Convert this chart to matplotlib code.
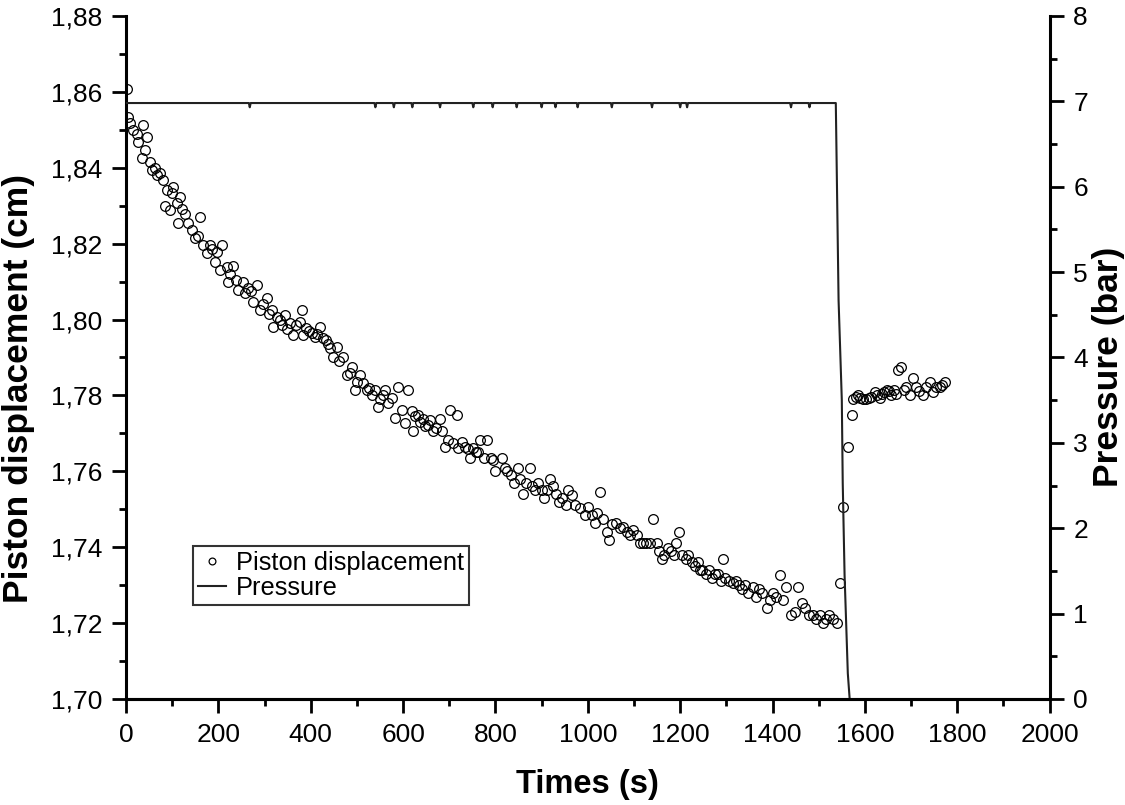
import matplotlib
matplotlib.use('Agg')
import matplotlib.pyplot as plt
from matplotlib.ticker import MultipleLocator, FuncFormatter

plt.rcParams['font.family'] = ['Liberation Sans', 'DejaVu Sans']

# Piston displacement (cm), time in s
piston_t = [
    2, 5, 9, 15, 24, 27, 35, 37, 41, 45,
    52, 56, 62, 67, 74, 80, 84, 88, 95, 100,
    102, 110, 113, 117, 122, 128, 134, 143, 149, 155,
    160, 167, 175, 182, 187, 193, 197, 203, 208, 218,
    220, 225, 232, 238, 243, 253, 258, 264, 270, 276,
    283, 290, 297, 305, 310, 316, 318, 326, 333, 338,
    344, 349, 355, 361, 368, 377, 381, 383, 390, 396,
    402, 409, 414, 420, 426, 432, 438, 442, 448, 456,
    462, 470, 478, 484, 489, 496, 501, 506, 513, 521,
    527, 533, 539, 545, 551, 556, 561, 567, 576, 582,
    589, 597, 604, 610, 619, 621, 626, 632, 637, 643,
    648, 654, 659, 665, 672, 680, 684, 690, 697, 701,
    708, 716, 719, 727, 734, 740, 745, 751, 757, 762,
    766, 775, 781, 790, 795, 800, 814, 820, 826, 833,
    840, 848, 853, 859, 866, 874, 880, 886, 893, 900,
    906, 912, 918, 925, 932, 938, 945, 952, 958, 965,
    972, 983, 994, 1000, 1008, 1015, 1020, 1026, 1032, 1041,
    1046, 1052, 1062, 1069, 1076, 1084, 1091, 1098, 1106, 1113,
    1120, 1127, 1134, 1141, 1149, 1155, 1160, 1166, 1173, 1180,
    1186, 1190, 1197, 1205, 1212, 1218, 1225, 1232, 1238, 1242,
    1248, 1255, 1262, 1268, 1275, 1282, 1288, 1292, 1298, 1305,
    1314, 1320, 1327, 1334, 1340, 1347, 1357, 1364, 1370, 1377,
    1387, 1394, 1400, 1408, 1416, 1422, 1430, 1441, 1448, 1455,
    1463, 1470, 1478, 1487, 1495, 1502, 1509, 1516, 1523, 1530,
    1539, 1545, 1553, 1563, 1571, 1574, 1580, 1585, 1590, 1596,
    1603, 1608, 1614, 1621, 1626, 1632, 1636, 1641, 1647, 1652,
    1657, 1664, 1668, 1672, 1679, 1685, 1690, 1697, 1704, 1711,
    1718, 1726, 1733, 1740, 1747, 1755, 1762, 1768, 1773,
]
piston_cm = [
    1.8608, 1.8534, 1.8518, 1.8500, 1.8490, 1.8468, 1.8426, 1.8513, 1.8447, 1.8480,
    1.8415, 1.8394, 1.8400, 1.8380, 1.8386, 1.8368, 1.8300, 1.8340, 1.8289, 1.8333,
    1.8350, 1.8307, 1.8254, 1.8323, 1.8290, 1.8278, 1.8254, 1.8236, 1.8215, 1.8220,
    1.8270, 1.8196, 1.8175, 1.8196, 1.8185, 1.8152, 1.8178, 1.8130, 1.8196, 1.8138,
    1.8100, 1.8120, 1.8140, 1.8105, 1.8078, 1.8100, 1.8070, 1.8083, 1.8075, 1.8046,
    1.8090, 1.8025, 1.8040, 1.8057, 1.8015, 1.8025, 1.7980, 1.8007, 1.8000, 1.7985,
    1.8012, 1.7975, 1.7990, 1.7960, 1.7985, 1.7993, 1.8025, 1.7960, 1.7978, 1.7970,
    1.7965, 1.7954, 1.7962, 1.7980, 1.7950, 1.7945, 1.7935, 1.7925, 1.7900, 1.7928,
    1.7890, 1.7900, 1.7854, 1.7860, 1.7875, 1.7814, 1.7835, 1.7854, 1.7833, 1.7814,
    1.7820, 1.7800, 1.7814, 1.7770, 1.7790, 1.7800, 1.7814, 1.7780, 1.7793, 1.7740,
    1.7822, 1.7762, 1.7727, 1.7814, 1.7760, 1.7706, 1.7745, 1.7748, 1.7730, 1.7738,
    1.7720, 1.7722, 1.7735, 1.7706, 1.7715, 1.7738, 1.7706, 1.7664, 1.7682, 1.7762,
    1.7675, 1.7748, 1.7661, 1.7677, 1.7664, 1.7660, 1.7635, 1.7661, 1.7650, 1.7650,
    1.7682, 1.7635, 1.7682, 1.7635, 1.7630, 1.7600, 1.7635, 1.7610, 1.7600, 1.7590,
    1.7570, 1.7610, 1.7580, 1.7540, 1.7570, 1.7610, 1.7560, 1.7550, 1.7570, 1.7550,
    1.7530, 1.7550, 1.7580, 1.7560, 1.7540, 1.7520, 1.7530, 1.7510, 1.7550, 1.7537,
    1.7510, 1.7503, 1.7485, 1.7506, 1.7485, 1.7464, 1.7490, 1.7545, 1.7474, 1.7440,
    1.7420, 1.7460, 1.7464, 1.7450, 1.7453, 1.7440, 1.7432, 1.7445, 1.7432, 1.7410,
    1.7410, 1.7410, 1.7410, 1.7474, 1.7410, 1.7390, 1.7370, 1.7380, 1.7398, 1.7390,
    1.7380, 1.7410, 1.7440, 1.7380, 1.7370, 1.7380, 1.7360, 1.7350, 1.7360, 1.7340,
    1.7340, 1.7330, 1.7340, 1.7320, 1.7330, 1.7330, 1.7310, 1.7370, 1.7320, 1.7310,
    1.7305, 1.7310, 1.7300, 1.7290, 1.7300, 1.7280, 1.7295, 1.7270, 1.7290, 1.7280,
    1.7240, 1.7260, 1.7280, 1.7270, 1.7327, 1.7260, 1.7295, 1.7220, 1.7230, 1.7295,
    1.7253, 1.7240, 1.7220, 1.7220, 1.7210, 1.7220, 1.7200, 1.7210, 1.7220, 1.7210,
    1.7200, 1.7305, 1.7506, 1.7664, 1.7748, 1.7790, 1.7796, 1.7801, 1.7792, 1.7790,
    1.7790, 1.7794, 1.7796, 1.7810, 1.7800, 1.7792, 1.7805, 1.7808, 1.7814, 1.7812,
    1.7801, 1.7814, 1.7805, 1.7867, 1.7876, 1.7815, 1.7823, 1.7801, 1.7845, 1.7823,
    1.7812, 1.7801, 1.7823, 1.7836, 1.7810, 1.7823, 1.7823, 1.7828, 1.7836,
]

# Pressure (bar): 7 bar with small glitches, then released
pressure_t = [
    0,
    266, 268, 270,
    538, 540, 542,
    578, 580, 582,
    618, 620, 622,
    678, 680, 682,
    750, 752, 754,
    792, 794, 796,
    844, 846, 848,
    898, 900, 902,
    928, 930, 932,
    976, 978, 980,
    1050, 1052, 1054,
    1137, 1139, 1141,
    1198, 1200, 1202,
    1213, 1215, 1217,
    1438, 1440, 1442,
    1478, 1480, 1482,
    1537, 1543, 1550, 1552, 1556, 1563, 1567,
]
pressure_bar = [
    6.98,
    6.98, 6.93, 6.98,
    6.98, 6.93, 6.98,
    6.98, 6.93, 6.98,
    6.98, 6.93, 6.98,
    6.98, 6.93, 6.98,
    6.98, 6.93, 6.98,
    6.98, 6.93, 6.98,
    6.98, 6.93, 6.98,
    6.98, 6.93, 6.98,
    6.98, 6.93, 6.98,
    6.98, 6.93, 6.98,
    6.98, 6.93, 6.98,
    6.98, 6.93, 6.98,
    6.98, 6.93, 6.98,
    6.98, 6.93, 6.98,
    6.98, 6.93, 6.98,
    6.98, 6.93, 6.98,
    6.98, 4.67, 3.50, 2.53, 1.45, 0.30, 0.0,
]

fig = plt.figure(figsize=(11.25, 8.05), dpi=100)
ax = fig.add_axes([0.112, 0.1317, 0.821, 0.8485])
ax2 = ax.twinx()

pts, = ax.plot(piston_t, piston_cm, 'o', mfc='none', mec='black', ms=7,
               mew=0.9, label='Piston displacement')
line, = ax2.plot(pressure_t, pressure_bar, '-', color='#222222', lw=1.5,
                 label='Pressure')

ax.set_xlim(0, 2000)
ax.set_ylim(1.70, 1.88)
ax2.set_ylim(0, 8)

ax.xaxis.set_major_locator(MultipleLocator(200))
ax.xaxis.set_minor_locator(MultipleLocator(100))
ax.yaxis.set_major_locator(MultipleLocator(0.02))
ax.yaxis.set_minor_locator(MultipleLocator(0.01))
ax.yaxis.set_major_formatter(FuncFormatter(lambda v, p: f'{v:.2f}'.replace('.', ',')))
ax2.yaxis.set_major_locator(MultipleLocator(1))
ax2.yaxis.set_minor_locator(MultipleLocator(0.5))

for a in (ax, ax2):
    a.spines['top'].set_visible(False)
    for s in a.spines.values():
        s.set_linewidth(2.2)
    a.tick_params(which='major', direction='out', length=10, width=2, labelsize=19, pad=7)
    a.tick_params(which='minor', direction='out', length=5, width=2)
ax.spines['right'].set_visible(False)
ax2.spines['left'].set_visible(False)

ax.set_xlabel('Times (s)', fontsize=23.5, fontweight='bold')
ax.xaxis.set_label_coords(0.5, -0.102)
ax.set_ylabel('Piston displacement (cm)', fontsize=25.5, fontweight='bold')
ax.yaxis.set_label_coords(-0.098, 0.455)
ax2.set_ylabel('Pressure (bar)', fontsize=25.5, fontweight='bold')
ax2.yaxis.set_label_coords(1.046, 0.486)

leg = ax2.legend([pts, line], ['Piston displacement', 'Pressure'],
                 loc='upper left', bbox_to_anchor=(0.0725, 0.224),
                 fontsize=18.3, frameon=True, fancybox=False,
                 edgecolor='black', borderaxespad=0, borderpad=0.2,
                 labelspacing=0.05, handlelength=1.1, handletextpad=0.4,
                 markerscale=0.7)
leg.get_frame().set_linewidth(1.5)

fig.savefig('out.png', dpi=100)
